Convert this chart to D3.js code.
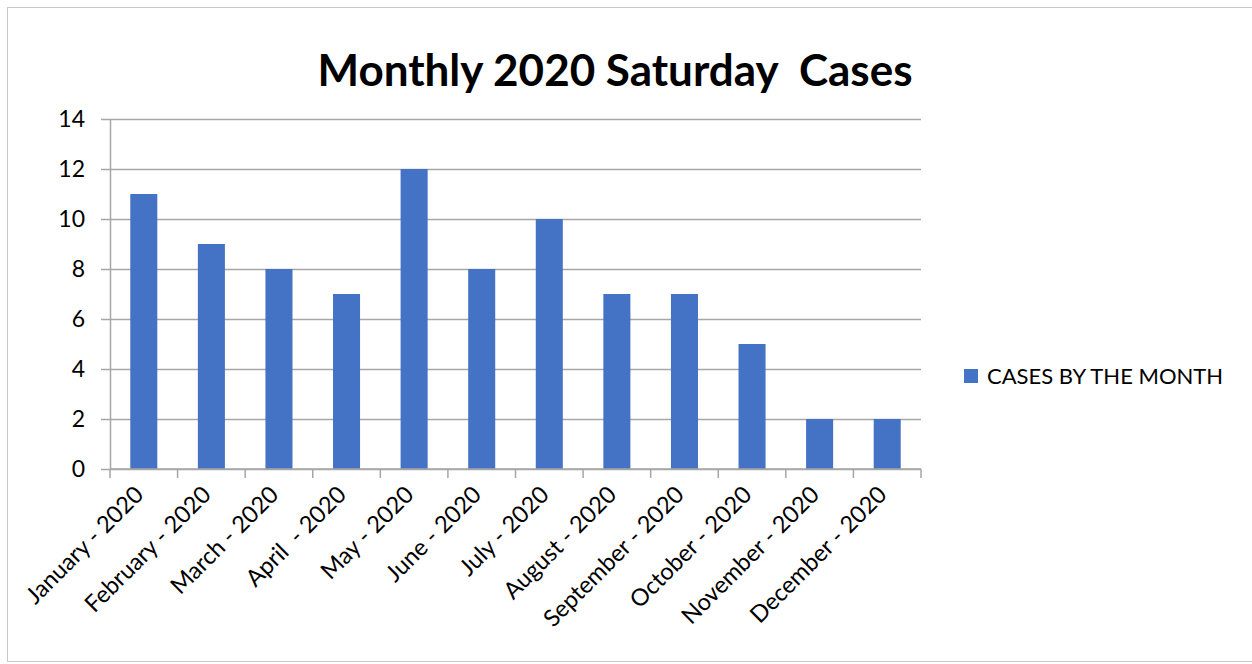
<!DOCTYPE html>
<meta charset="utf-8">
<title>Monthly 2020 Saturday Cases</title>
<style>
body {
  margin: 0;
  background: white;
  font-family: 'Lato', 'Noto Sans', sans-serif;
}
svg text { white-space: pre; }
</style>
<svg id="chart"></svg>
<script src="https://d3js.org/d3.v7.min.js"></script>
<script>
var months = ["January - 2020", "February - 2020", "March - 2020", "April  - 2020",
              "May - 2020", "June - 2020", "July - 2020", "August - 2020",
              "September - 2020", "October - 2020", "November - 2020", "December - 2020"];
var cases = [11, 9, 8, 7, 12, 8, 10, 7, 7, 5, 2, 2];
var yTicks = [0, 2, 4, 6, 8, 10, 12, 14];
var seriesName = "CASES BY THE MONTH";
var title = "Monthly 2020 Saturday  Cases";

var width = 1252, height = 664;
var plot = {left: 110, right: 921, top: 119, bottom: 469};
var grey = "#a6a6a6", blue = "#4472c4";

var svg = d3.select("#chart")
    .attr("width", width)
    .attr("height", height);

// chart frame
svg.append("rect")
    .attr("x", 7.5).attr("y", 7.5)
    .attr("width", width + 10).attr("height", 654)
    .attr("fill", "white")
    .attr("stroke", "#c8c8c8");

var x = d3.scaleBand()
    .domain(months)
    .range([plot.left, plot.right])
    .paddingInner(0.6)
    .paddingOuter(0.3);

var y = d3.scaleLinear()
    .domain([0, 14])
    .range([plot.bottom, plot.top]);

// gridlines + y ticks
var yAxis = svg.append("g")
    .attr("transform", "translate(" + plot.left + ",0)")
    .call(d3.axisLeft(y).tickValues(yTicks).tickSize(9).tickPadding(16).tickSizeOuter(0));
yAxis.select(".domain").attr("stroke", grey).attr("stroke-width", 1.5);
yAxis.selectAll(".tick line").attr("stroke", grey).attr("stroke-width", 1.5);
yAxis.selectAll(".tick").append("line")
    .attr("x1", 0).attr("x2", plot.right - plot.left)
    .attr("stroke", grey).attr("stroke-width", 1.5);
yAxis.selectAll(".tick text")
    .attr("fill", "#000")
    .style("font-size", "23px")
    .style("font-family", "Lato, 'Noto Sans', sans-serif");

// bars
svg.selectAll("rect.bar")
  .data(cases)
  .enter().append("rect")
    .attr("class", "bar")
    .attr("x", function(d, i) { return x(months[i]); })
    .attr("y", function(d) { return y(d); })
    .attr("width", x.bandwidth())
    .attr("height", function(d) { return y(0) - y(d); })
    .attr("fill", blue);

// x axis line and ticks at category boundaries
svg.append("line")
    .attr("x1", plot.left).attr("x2", plot.right)
    .attr("y1", y(0)).attr("y2", y(0))
    .attr("stroke", grey).attr("stroke-width", 1.5);

var bounds = d3.range(months.length + 1).map(function(i) { return plot.left + i * x.step(); });
svg.selectAll("line.xtick")
  .data(bounds)
  .enter().append("line")
    .attr("class", "xtick")
    .attr("x1", function(d) { return d; }).attr("x2", function(d) { return d; })
    .attr("y1", y(0)).attr("y2", y(0) + 9)
    .attr("stroke", grey).attr("stroke-width", 1.5);

svg.selectAll("text.xlab")
  .data(months)
  .enter().append("text")
    .attr("class", "xlab")
    .attr("text-anchor", "end")
    .attr("transform", function(d) {
      return "translate(" + (x(d) + x.bandwidth() / 2 + 1) + "," + (y(0) + 27) + ") rotate(-45)";
    })
    .style("font-size", "23.5px")
    .text(function(d) { return d; });

// title
svg.append("text")
    .attr("x", 615).attr("y", 86)
    .attr("text-anchor", "middle")
    .style("font-size", "44px")
    .style("font-weight", "bold")
    .text(title);

// legend
var legend = svg.append("g").attr("transform", "translate(964,369)");
legend.append("rect")
    .attr("width", 14).attr("height", 14)
    .attr("fill", blue);
legend.append("text")
    .attr("x", 23).attr("y", 15)
    .style("font-size", "22px")
    .text(seriesName);
</script>
